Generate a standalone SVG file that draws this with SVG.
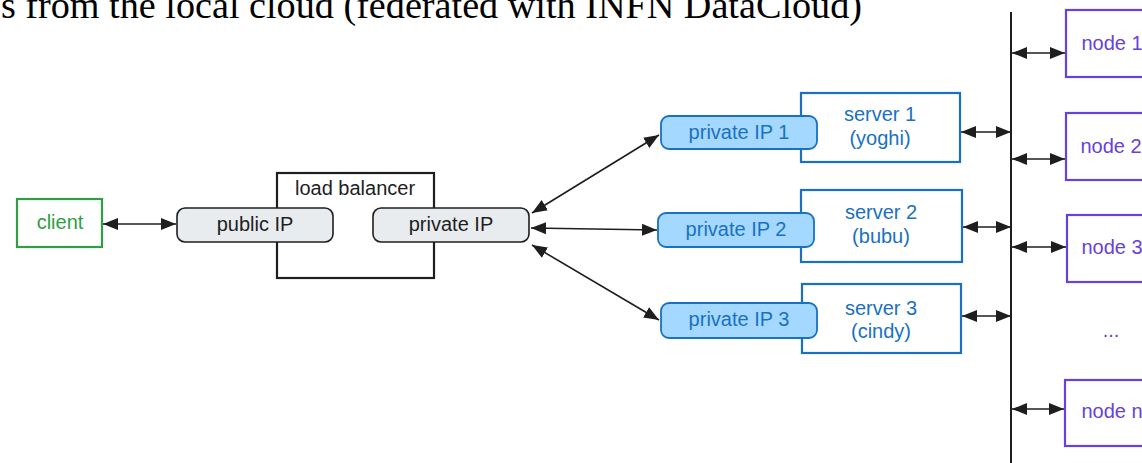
<svg xmlns="http://www.w3.org/2000/svg" width="1142" height="463" viewBox="0 0 1142 463">
  <style>
    .t { font-family: "Liberation Sans", Arial, sans-serif; font-size: 20px; text-anchor: middle; }
    .dark { fill: #1e1e1e; }
    .blue { fill: #1971c2; }
    .green { fill: #2f9e44; }
    .violet { fill: #6741d9; }
    .gray-box { fill: #e9ecef; stroke: #1e1e1e; stroke-width: 1.6; }
    .ip-box { fill: #a5d8ff; stroke: #1971c2; stroke-width: 1.8; }
    .server { fill: #ffffff; stroke: #1971c2; stroke-width: 2.2; }
    .node { fill: #ffffff; stroke: #6741d9; stroke-width: 2.2; }
    .conn { fill: none; stroke: #1e1e1e; stroke-width: 1.6; marker-start: url(#ah); marker-end: url(#ah); }
  </style>
  <defs>
    <marker id="ah" viewBox="0 0 15 12" refX="15" refY="6" markerWidth="15" markerHeight="12" markerUnits="userSpaceOnUse" orient="auto-start-reverse">
      <path d="M0,0 L15,6 L0,12 z" fill="#1e1e1e"/>
    </marker>
  </defs>
  <rect width="1142" height="463" fill="#ffffff"/>

  <text x="862" y="18" style="font-family: 'Liberation Serif', 'Times New Roman', serif; font-size: 38.2px; text-anchor: end;" fill="#000000">s from the local cloud (federated with INFN DataCloud)</text>

  <g id="client">
    <rect x="17" y="199" width="85" height="48" fill="#ffffff" stroke="#2f9e44" stroke-width="2.2"/>
    <text class="t green" x="60" y="229">client</text>
  </g>

  <g id="load-balancer">
    <rect x="277" y="173" width="157" height="105" fill="none" stroke="#1e1e1e" stroke-width="2.2"/>
    <text class="t dark" x="355" y="195">load balancer</text>
  </g>

  <g id="public-ip">
    <rect class="gray-box" x="177" y="208" width="156" height="34" rx="8"/>
    <text class="t dark" x="255" y="231">public IP</text>
  </g>

  <g id="private-ip">
    <rect class="gray-box" x="373" y="208" width="156" height="34" rx="8"/>
    <text class="t dark" x="451" y="231">private IP</text>
  </g>

  <g id="server-1">
    <rect class="server" x="801" y="93" width="159" height="69"/>
    <text class="t blue" x="880" y="121">server 1</text>
    <text class="t blue" x="880" y="145">(yoghi)</text>
  </g>
  <g id="private-ip-1">
    <rect class="ip-box" x="661" y="116" width="156" height="33" rx="8"/>
    <text class="t blue" x="739" y="138.5">private IP 1</text>
  </g>

  <g id="server-2">
    <rect class="server" x="801" y="190" width="161" height="72"/>
    <text class="t blue" x="881" y="219">server 2</text>
    <text class="t blue" x="881" y="243">(bubu)</text>
  </g>
  <g id="private-ip-2">
    <rect class="ip-box" x="658" y="213" width="156" height="34" rx="8"/>
    <text class="t blue" x="736" y="236">private IP 2</text>
  </g>

  <g id="server-3">
    <rect class="server" x="802" y="284" width="159" height="69"/>
    <text class="t blue" x="881" y="315">server 3</text>
    <text class="t blue" x="881" y="338">(cindy)</text>
  </g>
  <g id="private-ip-3">
    <rect class="ip-box" x="661" y="303" width="156" height="35" rx="8"/>
    <text class="t blue" x="739" y="326">private IP 3</text>
  </g>

  <g id="network-bus">
    <line x1="1011" y1="12" x2="1011" y2="463" stroke="#1e1e1e" stroke-width="2"/>
  </g>

  <g id="node-1">
    <rect class="node" x="1066" y="10" width="92" height="67"/>
    <text class="t violet" x="1112" y="50">node 1</text>
  </g>
  <g id="node-2">
    <rect class="node" x="1066" y="113" width="92" height="67"/>
    <text class="t violet" x="1111" y="152.5">node 2</text>
  </g>
  <g id="node-3">
    <rect class="node" x="1067" y="215" width="92" height="67"/>
    <text class="t violet" x="1112" y="254">node 3</text>
  </g>
  <g id="node-ellipsis">
    <text class="t violet" x="1111" y="337">...</text>
  </g>
  <g id="node-n">
    <rect class="node" x="1065" y="380" width="92" height="66"/>
    <text class="t violet" x="1112" y="418">node n</text>
  </g>

  <g id="connectors">
    <line class="conn" x1="103" y1="224" x2="176" y2="224"/>
    <line class="conn" x1="532" y1="213" x2="659" y2="135"/>
    <line class="conn" x1="531" y1="228" x2="657" y2="230"/>
    <line class="conn" x1="532" y1="245" x2="659" y2="320"/>
    <line class="conn" x1="961" y1="132" x2="1011" y2="132"/>
    <line class="conn" x1="963" y1="227" x2="1011" y2="227"/>
    <line class="conn" x1="962" y1="316" x2="1011" y2="316"/>
    <line class="conn" x1="1012" y1="53" x2="1065" y2="53"/>
    <line class="conn" x1="1012" y1="159" x2="1065" y2="159"/>
    <line class="conn" x1="1012" y1="247" x2="1066" y2="247"/>
    <line class="conn" x1="1012" y1="409" x2="1064" y2="409"/>
  </g>
</svg>
